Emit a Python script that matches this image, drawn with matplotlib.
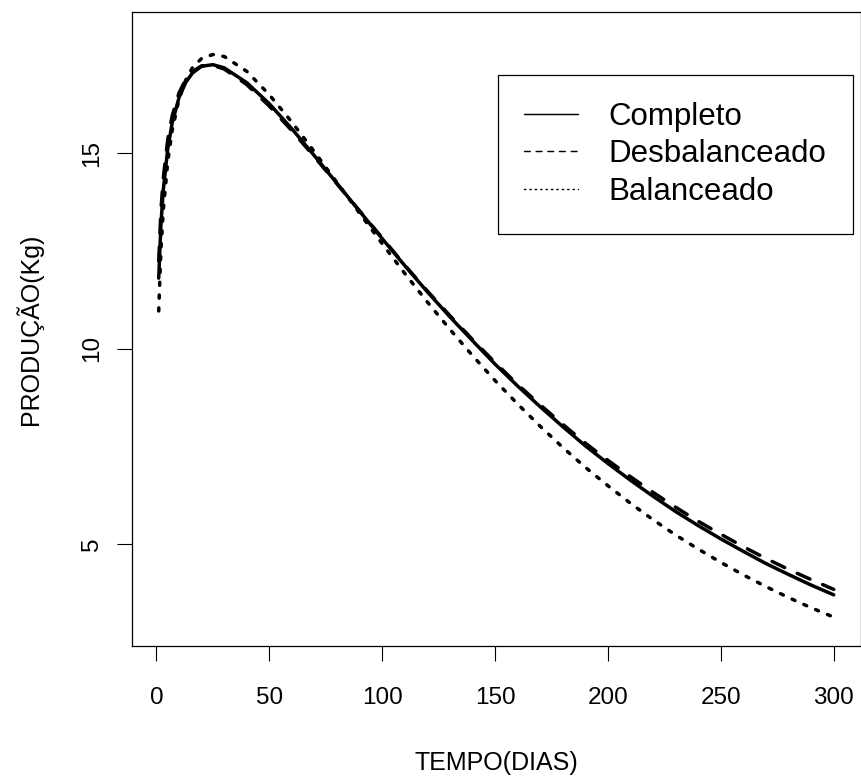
import matplotlib
matplotlib.use("Agg")
import matplotlib.pyplot as plt

plt.rcParams['font.family'] = ['Liberation Sans', 'DejaVu Sans']

# days at which the fitted curves are tabulated
dias = [1, 2, 3, 5, 7, 10, 13, 16, 20, 25, 30, 40, 50, 60, 70, 80, 90, 100,
        110, 120, 130, 140, 150, 160, 170, 180, 190, 200, 210, 220, 230, 240,
        250, 260, 270, 280, 290, 300]

completo = [11.80, 13.19, 14.04, 15.11, 15.78, 16.42, 16.81, 17.05, 17.22, 17.26,
            17.18, 16.80, 16.26, 15.62, 14.93, 14.22, 13.51, 12.81, 12.12, 11.45,
            10.81, 10.20, 9.60, 9.04, 8.51, 8.00, 7.51, 7.06, 6.63, 6.22,
            5.83, 5.47, 5.13, 4.81, 4.50, 4.22, 3.95, 3.70]

desbalanceado = [12.24, 13.56, 14.35, 15.35, 15.96, 16.54, 16.89, 17.09, 17.23, 17.24,
                 17.15, 16.75, 16.20, 15.57, 14.90, 14.21, 13.52, 12.83, 12.13, 11.47,
                 10.84, 10.23, 9.64, 9.08, 8.56, 8.06, 7.58, 7.14, 6.72, 6.32,
                 5.94, 5.58, 5.25, 4.93, 4.63, 4.35, 4.09, 3.84]

balanceado = [10.96, 12.54, 13.52, 14.78, 15.59, 16.38, 16.87, 17.19, 17.42, 17.52,
              17.47, 17.09, 16.49, 15.79, 15.03, 14.24, 13.46, 12.68, 11.92, 11.19,
              10.49, 9.82, 9.18, 8.58, 8.01, 7.47, 6.96, 6.49, 6.04, 5.62,
              5.23, 4.87, 4.53, 4.21, 3.91, 3.63, 3.37, 3.13]

labels = ['Completo', 'Desbalanceado', 'Balanceado']
x_ticks = [0, 50, 100, 150, 200, 250, 300]
y_ticks = [5, 10, 15]

fig = plt.figure(figsize=(8.62, 7.78), dpi=100)
ax = fig.add_axes([0.1528, 0.1701, 0.8457, 0.8141])

lw = 2.5
ax.plot(dias, completo, color='black', lw=lw, solid_capstyle='round',
        solid_joinstyle='round', label=labels[0])
ax.plot(dias, desbalanceado, color='black', lw=lw, dashes=(4, 4),
        dash_capstyle='round', label=labels[1])
ax.plot(dias, balanceado, color='black', lw=lw, dashes=(0.9, 2.8),
        dash_capstyle='round', label=labels[2])

# R-style axis extent: 4% padding around 1..300 and 3..18
ax.set_xlim(1 - 0.04 * 299, 300 + 0.04 * 299)
ax.set_ylim(3 - 0.04 * 15, 18 + 0.04 * 15)
ax.set_xticks(x_ticks)
ax.set_yticks(y_ticks)

for s in ax.spines.values():
    s.set_linewidth(0.9)
ax.tick_params(direction='out', length=10.8, width=0.8, labelsize=17.5)
ax.tick_params(axis='x', pad=19)
ax.tick_params(axis='y', pad=10)
for t in ax.get_yticklabels():
    t.set_rotation(90)
    t.set_va('center')

ax.set_xlabel('TEMPO(DIAS)', fontsize=18, labelpad=30)
ax.set_ylabel('PRODUÇÃO(Kg)', fontsize=18, labelpad=27)

leg = ax.legend(loc='upper right', bbox_to_anchor=(853.3 / 862, 1 - 75 / 778),
                bbox_transform=fig.transFigure, fontsize=22.5, frameon=True,
                fancybox=False, edgecolor='black', framealpha=1,
                handlelength=1.7, handletextpad=1.0, labelspacing=0.25,
                borderpad=0.85, borderaxespad=0)
leg.get_frame().set_linewidth(0.9)
for line in leg.get_lines():
    line.set_linewidth(1.05)

fig.savefig('out.png', dpi=100)
